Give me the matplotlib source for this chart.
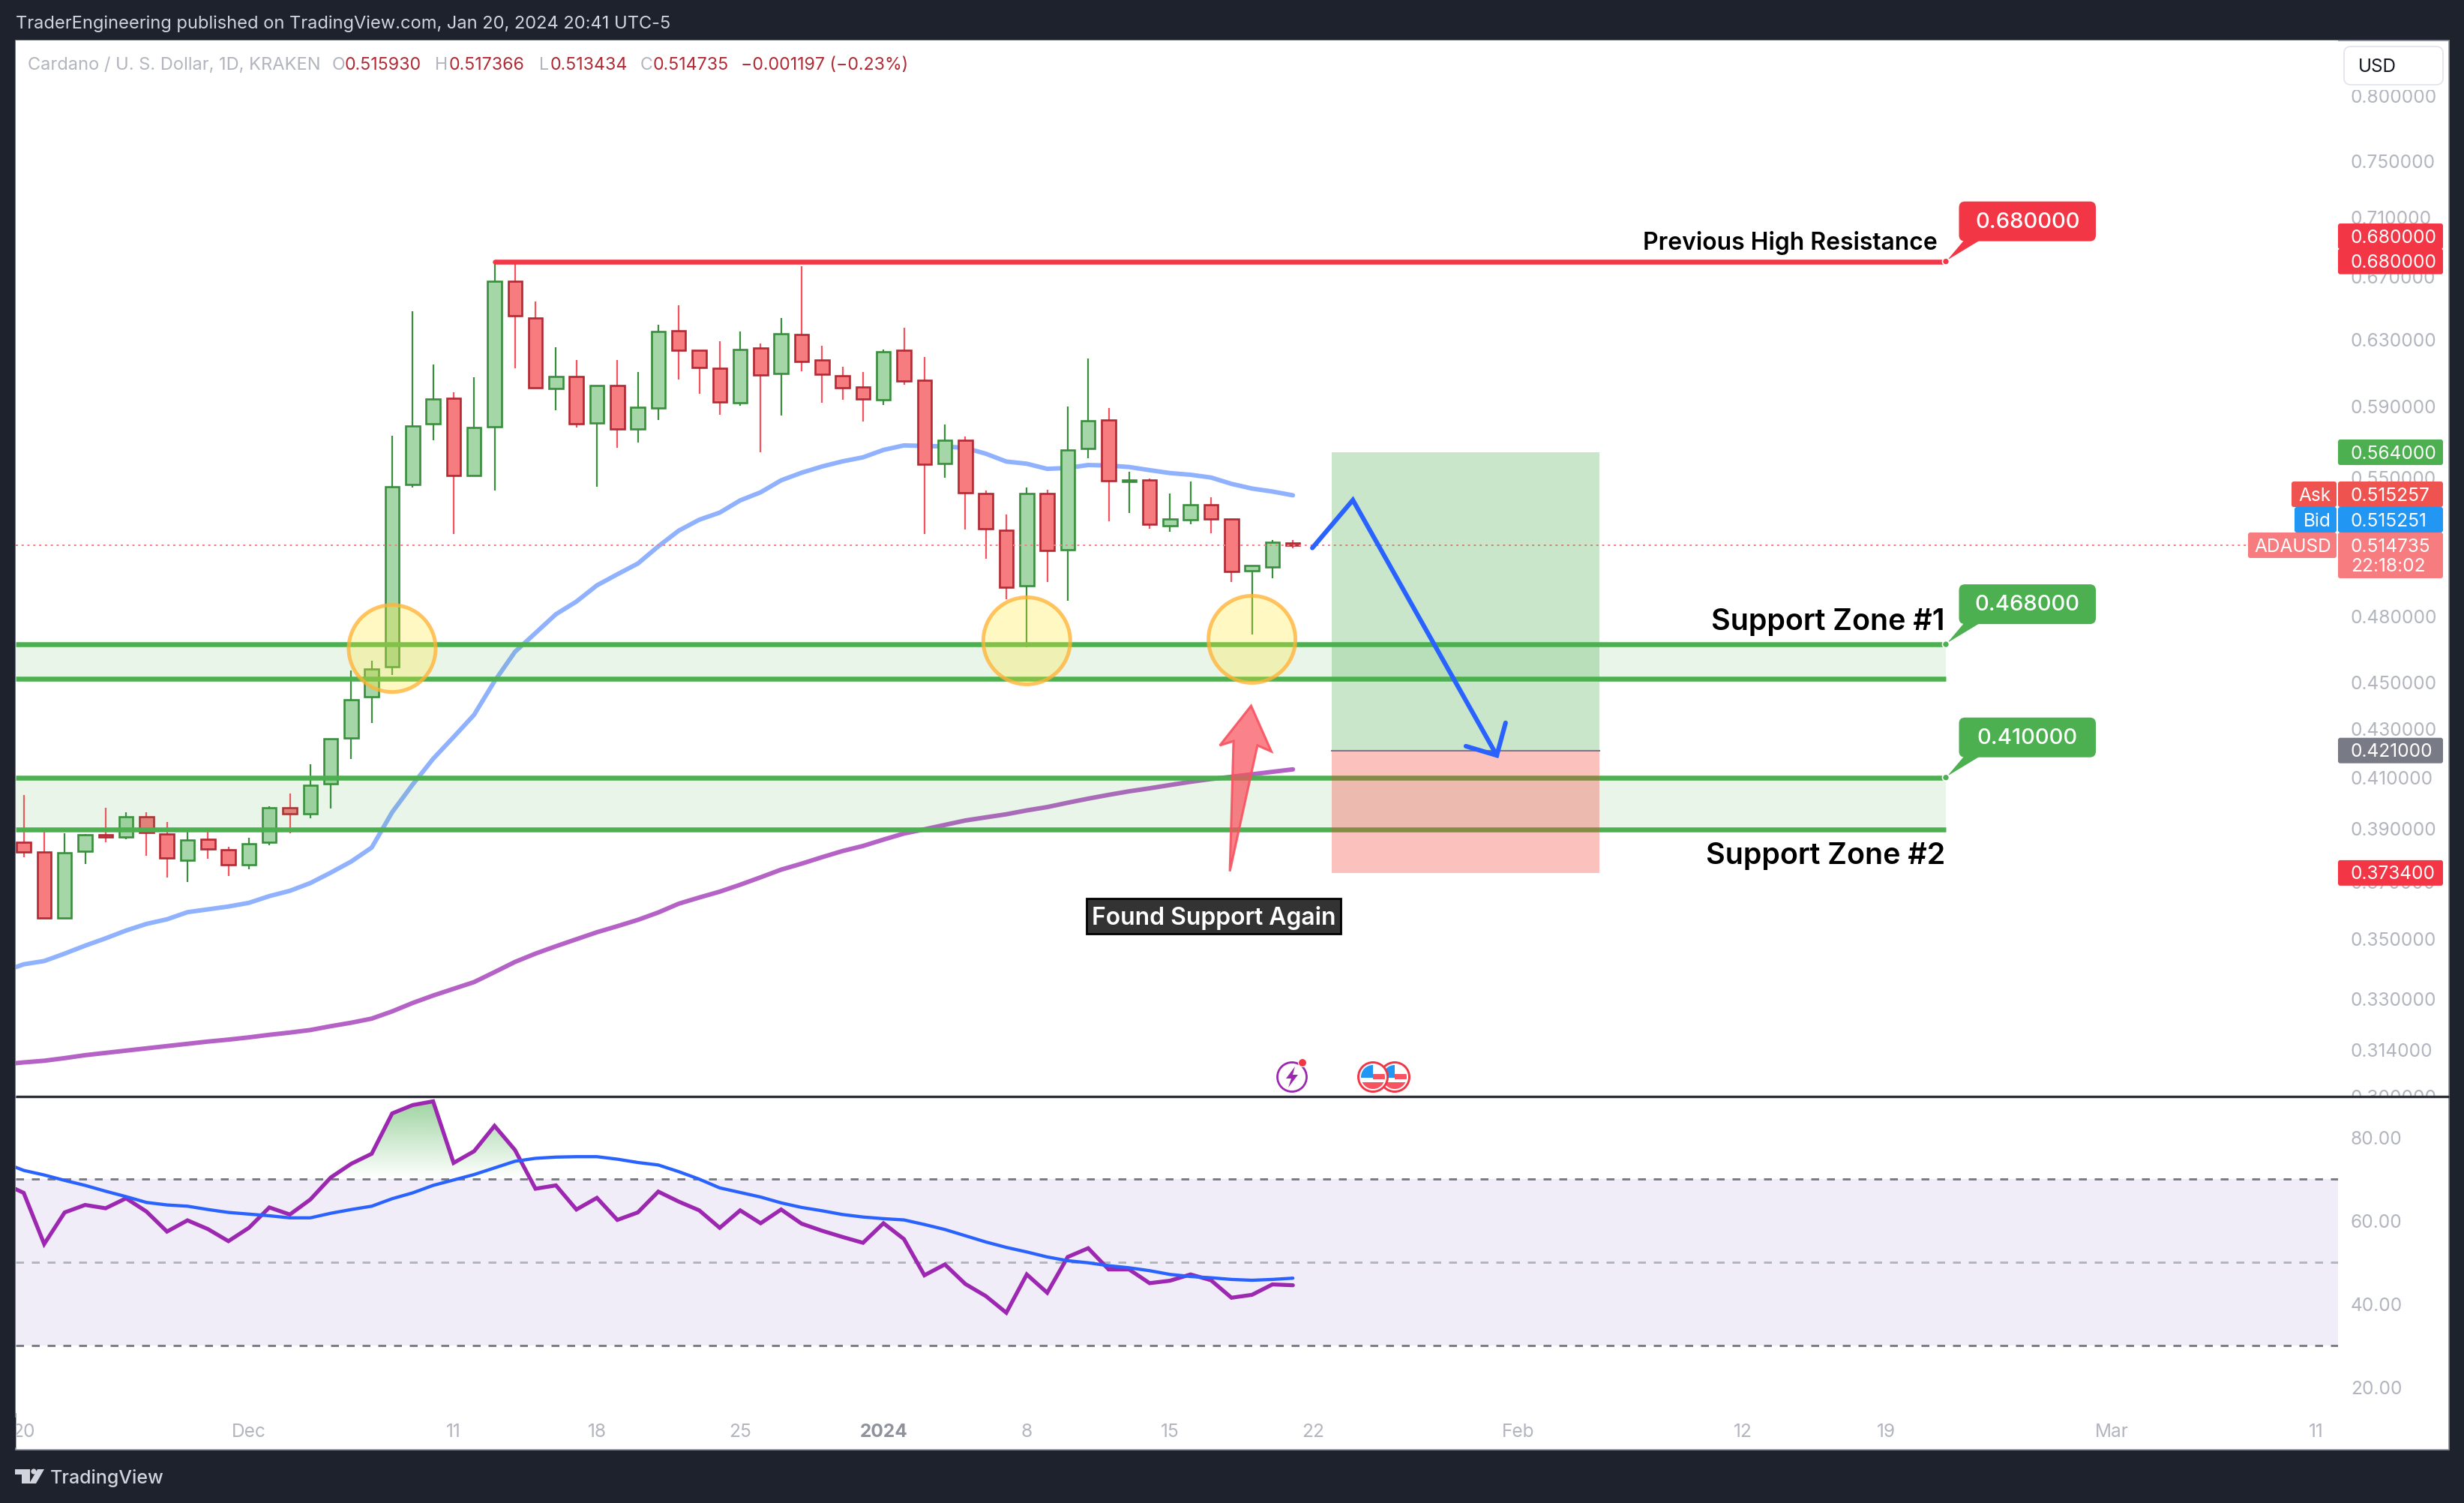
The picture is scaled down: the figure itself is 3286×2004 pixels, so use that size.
import numpy as np
import matplotlib
matplotlib.use("Agg")
import matplotlib.pyplot as plt
from matplotlib.patches import Rectangle, FancyBboxPatch, Circle, Polygon
from matplotlib.ticker import NullLocator

plt.rcParams['font.family'] = ['Inter', 'DejaVu Sans']

# ---- data -------------------------------------------------------------
opens = [.3847,.3810,.3573,.3814,.3875,.3867,.3946,.3880,.3781,.3860,.3820,.3765,.3849,.3981,.3956,.4075,
         .4262,.4437,.4572,.5465,.5798,.5947,.5514,.5783,.6671,.6435,.6005,.6075,.5805,.6022,.5768,.5891,
         .6355,.6231,.6126,.5919,.6245,.6092,.6328,.6172,.6081,.6014,.5938,.6234,.6054,.5579,.5705,.5418,
         .5223,.4949,.5418,.5126,.5661,.5822,.5482,.5490,.5247,.5279,.5359,.5281,.5022,.5041,.51593]
highs = [.4029,.3888,.3883,.3878,.3981,.3963,.3963,.3926,.3888,.3888,.3831,.3864,.3986,.4036,.4154,.4260,
         .4554,.4599,.5732,.6476,.6148,.5982,.6070,.6800,.6786,.6538,.6253,.6175,.6022,.6172,.6101,.6392,
         .6515,.6233,.6289,.6347,.6273,.6434,.6770,.6263,.6133,.6102,.6238,.6374,.6190,.5796,.5729,.5433,
         .5307,.5449,.5437,.5900,.6184,.5891,.5534,.5498,.5418,.5482,.5398,.5282,.5046,.5175,.517366]
lows = [.3791,.3570,.3570,.3768,.3847,.3859,.3796,.3716,.3701,.3786,.3723,.3748,.3836,.3883,.3939,.3977,
        .4175,.4324,.4533,.5447,.5706,.5204,.5510,.5431,.6122,.6005,.5876,.5778,.5453,.5665,.5694,.5820,
        .6058,.5974,.5853,.5903,.5640,.5845,.6107,.5921,.5938,.5811,.5908,.6027,.5204,.5502,.5230,.5081,
        .4883,.4657,.4967,.4876,.5609,.5272,.5315,.5233,.5216,.5256,.5210,.4965,.4717,.4985,.513434]
closes = [.3810,.3573,.3808,.3875,.3867,.3946,.3886,.3788,.3857,.3822,.3765,.3843,.3981,.3956,.4068,.4258,
          .4426,.4562,.5453,.5788,.5941,.5514,.5778,.6668,.6446,.6010,.6075,.5800,.6022,.5768,.5893,.6351,
          .6233,.6128,.5925,.6240,.6083,.6337,.6165,.6088,.6009,.5941,.6226,.6047,.5574,.5705,.5421,.5232,
          .4941,.5418,.5122,.5654,.5819,.5485,.5487,.5255,.5281,.5359,.5282,.5019,.5046,.5162,.514735]
# moving averages start one session before the first visible candle
ma_fast = [.3390,.3414,.3425,.3450,.3477,.3502,.3529,.3552,.3568,.3593,.3603,.3613,.3626,.3650,.3669,.3697,.3735,
           .3776,.3828,.3963,.4072,.4176,.4266,.4360,.4506,.4638,.4724,.4812,.4872,.4950,.5004,.5057,.5143,
           .5223,.5279,.5316,.5380,.5423,.5487,.5528,.5562,.5590,.5612,.5653,.5678,.5675,.5672,.5664,.5632,
           .5589,.5577,.5549,.5554,.5570,.5567,.5559,.5542,.5526,.5517,.5502,.5468,.5443,.5427,.5407]
ma_slow = [.3095,.3101,.3106,.3114,.3123,.3130,.3137,.3144,.3151,.3158,.3165,.3171,.3178,.3186,.3193,.3201,.3213,
           .3224,.3237,.3260,.3287,.3311,.3333,.3355,.3388,.3422,.3450,.3475,.3499,.3523,.3544,.3566,.3592,
           .3623,.3645,.3666,.3691,.3718,.3746,.3768,.3792,.3815,.3834,.3858,.3881,.3897,.3914,.3931,.3943,
           .3955,.3970,.3983,.4000,.4016,.4031,.4045,.4057,.4070,.4083,.4094,.4103,.4113,.4123,.4133]
rsi = [69.0,66.7,54.4,62.0,63.8,63.0,65.4,62.2,57.4,60.1,58.0,55.1,58.3,63.2,61.5,65.1,70.4,73.7,76.1,85.8,87.8,88.7,
       73.9,76.7,82.8,77.0,67.7,68.5,62.7,65.5,60.2,62.0,67.0,64.6,62.5,58.3,62.5,59.4,62.7,59.3,57.6,56.1,54.7,
       59.4,55.6,46.9,49.5,44.8,41.9,37.9,47.1,42.7,51.3,53.4,48.3,48.3,45.0,45.6,47.1,45.7,41.5,42.2,44.7,44.5]
rsi_ma = [74.0,72.1,71.0,69.7,68.5,67.1,65.8,64.4,63.8,63.5,62.7,62.0,61.6,61.2,60.7,60.7,61.8,62.7,63.5,65.3,66.7,68.5,
          69.8,71.1,72.7,74.3,75.0,75.3,75.4,75.4,74.8,74.0,73.4,71.8,70.0,67.9,66.8,65.7,64.3,63.2,62.4,61.5,60.9,
          60.5,60.2,59.1,57.9,56.4,54.9,53.6,52.5,51.3,50.4,49.9,49.2,48.7,48.0,47.1,46.6,46.3,45.9,45.7,45.9,46.2]
price_ticks = [.80,.75,.71,.67,.63,.59,.55,.48,.45,.43,.41,.39,.37,.35,.33,.314,.30]
price_labels = ["%.6f" % v for v in price_ticks]
rsi_ticks = [80, 60, 40, 20]
rsi_labels = ["80.00", "60.00", "40.00", "20.00"]
time_ticks = [0, 11, 21, 28, 35, 42, 49, 56, 63, 73, 84, 91, 102, 112]
time_labels = ["20", "Dec", "11", "18", "25", "2024", "8", "15", "22", "Feb", "12", "19", "Mar", "11"]

resistance = 0.68
zone1 = (0.4518, 0.4672)
zone2 = (0.3897, 0.4100)
target, entry, stop = 0.564, 0.421, 0.3734
last_close = 0.514735
plan_x = [62.95, 64.93, 71.96]
plan_y = [.5135, .5382, .4190]
head_x = [70.45, 71.96, 72.39]
head_y = [.4228, .4190, .4326]
red_arrow_x = [59.96, 60.95, 60.27, 58.92, 59.10, 58.43]
red_arrow_y = [.4399, .4206, .4231, .3740, .4249, .4231]
touch_x = [18, 49, 60]
touch_y = [.4653, .4688, .4695]

# ---- colours ----------------------------------------------------------
DARK = '#1E222D'; GREY = '#B2B5BE'; RED = '#F23645'; GREEN = '#4CAF50'
UP_F = '#A5D6A7'; UP_E = '#388E3C'; DN_F = '#F77C80'; DN_E = '#B22833'; DN_W = '#F7525F'

W, H = 3286, 2004
fig = plt.figure(figsize=(W/100, H/100), dpi=100, facecolor=DARK)

def frac(l, t, r, b):
    return [l/W, 1-b/H, (r-l)/W, (b-t)/H]

fig.add_artist(Rectangle((21/W, 1-1933/H), (3266-21)/W, (1933-54)/H, transform=fig.transFigure,
                         fc='white', ec='#8A8E99', lw=1.2, zorder=-5))

ax = fig.add_axes(frac(21, 54, 3118, 1462), facecolor='white', zorder=2)
x0, x1 = (21-31.6)/27.3, (3118-31.6)/27.3
ax.set_yscale('log')
ax.set_xlim(x0, x1)
ax.set_ylim(0.2999, 0.8445)
for s in ax.spines.values():
    s.set_visible(False)
ax.yaxis.tick_right()
ax.yaxis.set_minor_locator(NullLocator())
ax.set_yticks(price_ticks, price_labels)
ax.tick_params(axis='y', length=0, pad=12.2, labelsize=17.6, labelcolor=GREY)
ax.set_xticks([])

xs = np.arange(len(opens))
xm = np.arange(-1, len(opens))
ax.plot(xm, ma_fast, color='#90B1FE', lw=4.3, zorder=1, solid_capstyle='round')
ax.plot(xm, ma_slow, color='#B562C6', lw=4.3, zorder=1, solid_capstyle='round')

o, h, l, c = map(np.array, (opens, highs, lows, closes))
up = c >= o
ax.vlines(xs[up], l[up], h[up], color=UP_E, lw=1.6, zorder=2)
ax.vlines(xs[~up], l[~up], h[~up], color=DN_W, lw=1.6, zorder=2)
bot = np.minimum(o, c); top = np.maximum(o, c)
ax.bar(xs[up], (top-bot)[up], bottom=bot[up], width=.68, fc=UP_F, ec=UP_E, lw=1.9, zorder=2.2)
ax.bar(xs[~up], (top-bot)[~up], bottom=bot[~up], width=.68, fc=DN_F, ec=DN_E, lw=1.9, zorder=2.2)

px_end = 93.9
ax.plot([x0, 108.66], [last_close]*2, color=DN_F, lw=1.4, ls=(0, (1.5, 2.5)), zorder=2.5)
for lo, hi in (zone1, zone2):
    ax.fill_between([x0, px_end], lo, hi, color=GREEN, alpha=.12, lw=0, zorder=3)
    ax.plot([x0, px_end], [hi, hi], color=GREEN, lw=4.7, zorder=3.1, solid_capstyle='butt')
    ax.plot([x0, px_end], [lo, lo], color=GREEN, lw=4.7, zorder=3.1, solid_capstyle='butt')
ax.plot([23, px_end], [resistance]*2, color=RED, lw=4.7, zorder=3.1, solid_capstyle='round')

ax.fill_between([63.9, 76.97], entry, target, color=GREEN, alpha=.30, lw=0, zorder=4)
ax.fill_between([63.9, 76.97], stop, entry, color='#F44336', alpha=.33, lw=0, zorder=4)
ax.plot([63.9, 76.97], [entry, entry], color='#787B86', lw=1.5, zorder=4.1)
ax.add_patch(Polygon(np.column_stack([red_arrow_x, red_arrow_y]), closed=True, fc=(247/255, 82/255, 95/255, .72),
                     ec=(247/255, 82/255, 95/255, .9), lw=2.2, zorder=6))
ax.plot(plan_x, plan_y, color='#2962FF', lw=4.4, zorder=6, solid_capstyle='round', solid_joinstyle='miter')
ax.plot(head_x, head_y, color='#2962FF', lw=4.4, zorder=6, solid_capstyle='round', solid_joinstyle='miter')

# ---- RSI pane ---------------------------------------------------------
rx = fig.add_axes(frac(21, 1464, 3118, 1884), facecolor='white', zorder=2)
rx.set_xlim(x0, x1)
rx.set_ylim(13.8, 89.5)
for s in rx.spines.values():
    s.set_visible(False)
rx.yaxis.tick_right()
rx.set_yticks(rsi_ticks, rsi_labels)
rx.tick_params(axis='y', length=0, pad=12.2, labelsize=17.6, labelcolor=GREY)
rx.set_xticks(time_ticks, time_labels)
rx.tick_params(axis='x', length=0, pad=10, labelsize=17.6, labelcolor=GREY)
for t, s in zip(rx.get_xticklabels(), time_labels):
    if s == '2024':
        t.set_fontweight('bold'); t.set_color('#8F929C')
rx.axhspan(30, 70, color='#7E57C2', alpha=.10, lw=0, zorder=1)
rx.axhline(70, color='#787B86', lw=2.1, ls=(0, (3.6, 3.6)), zorder=1.2)
rx.axhline(50, color='#B2B5BE', lw=2.1, ls=(0, (3.6, 3.6)), zorder=1.2)
rx.axhline(30, color='#787B86', lw=2.1, ls=(0, (3.6, 3.6)), zorder=1.2)
rsi_a = np.array(rsi)
poly = rx.fill_between(xm, 70, rsi_a, where=rsi_a >= 70, interpolate=True, color='none', lw=0)
grad = np.zeros((100, 2, 4))
grad[..., :3] = matplotlib.colors.to_rgb(GREEN)
grad[..., 3] = np.linspace(.55, 0, 100)[:, None]
im = rx.imshow(grad, extent=(-1, 63, 70, 89), origin='upper', aspect='auto', zorder=1.4, interpolation='bilinear')
im.set_clip_path(poly.get_paths()[0], transform=rx.transData)
rx.set_xlim(x0, x1); rx.set_ylim(13.8, 89.5)
rx.plot(xm, rsi, color='#9C27B0', lw=3.8, zorder=3, solid_joinstyle='miter', solid_capstyle='round')
rx.plot(xm, rsi_ma, color='#2962FF', lw=3.1, zorder=3.2, solid_capstyle='round')

# ---- overlay in pixels (labels, tags, furniture) ------------------------
ov = fig.add_axes([0, 0, 1, 1], zorder=10, facecolor='none')
ov.set_xlim(0, W); ov.set_ylim(H, 0); ov.axis('off')

def py(price, x=0):
    return H - ax.transData.transform((x, price))[1]

def px(i):
    return ax.transData.transform((i, 0.5))[0]

def box(l, t, r, b, fc, ec='none', lw=0, rad=3, z=11):
    ov.add_patch(FancyBboxPatch((l+rad, t+rad), r-l-2*rad, b-t-2*rad, boxstyle='round,pad=%g,rounding_size=%g' % (rad, rad),
                                fc=fc, ec=ec, lw=lw, zorder=z, mutation_aspect=1))

def txt(x, y, s, size=17.6, color='white', ha='left', weight='normal', z=12):
    return ov.text(x, y+2, s, fontsize=size, color=color, ha=ha, va='center', fontweight=weight, zorder=z)

# hide parts of labels clipped in the original
ov.add_patch(Rectangle((3119, 1464), 146, 30, fc='white', ec='none', zorder=9))
ov.add_patch(Rectangle((0, 1890), 20.5, 40, fc=DARK, ec='none', zorder=9))
ov.plot([21, 3266], [1462, 1462], color='#2A2E39', lw=2.4, zorder=10, solid_capstyle='butt')

for i, p in zip(touch_x, touch_y):
    ov.add_patch(Circle((px(i), py(p)), 58, fc=(1, .92, .23, .30), ec=(1, .70, .22, .78), lw=3.6, zorder=5))

# right scale tags
def tag(center, s, fc, h=34):
    box(3118, center-h/2, 3258, center+h/2, fc)
    txt(3135, center, s)

tag(315, "0.680000", RED)
tag(py(.68), "0.680000", RED)
tag(py(target), "0.564000", GREEN)
tag(659, "0.515257", '#EF5350')
tag(693, "0.515251", '#2196F3')
box(3118, 710, 3258, 771, DN_F)
txt(3135, 727, "0.514735")
txt(3135, 754, "22:18:02")
tag(py(entry), "0.421000", '#787B86')
tag(py(stop), "0.373400", RED)
box(3056, 642, 3116, 676, '#EF5350'); txt(3109, 659, "Ask", ha='right')
box(3060, 676, 3116, 710, '#2196F3'); txt(3109, 693, "Bid", ha='right')
box(2998, 710, 3116, 744, DN_F); txt(3109, 727, "ADAUSD", ha='right')

# USD button
ov.add_patch(Rectangle((3122, 56), 143, 64, fc='white', ec='none', zorder=11))
box(3126, 62, 3258, 113, 'white', ec='#E0E3EB', lw=1.2, rad=9, z=11.5)
txt(3145, 87, "USD", size=17.5, color='#131722')

# callouts
def callout(price, s, fc):
    y = py(price)
    bb, bt = y-27, y-80
    box(2612.5, bt, 2795, bb, fc, rad=8, z=7)
    ov.add_patch(Polygon([(2619, bb-1), (2640, bb-1), (2597, y-2)], closed=True, fc=fc, ec='none', zorder=7))
    ov.add_patch(Circle((2595, y), 4.5, fc=fc, ec='white', lw=1.2, zorder=8))
    txt((2612.5+2795)/2, (bt+bb)/2-1, s, size=21, ha='center', weight='medium', z=8)

callout(.68, "0.680000", RED)
callout(zone1[1], "0.468000", GREEN)
callout(zone2[1], "0.410000", GREEN)

txt(2584, 322, "Previous High Resistance", size=23, color='black', ha='right', weight='semibold', z=8)
txt(2594, 828, "Support Zone #1", size=28.4, color='black', ha='right', weight='semibold', z=8)
txt(2594, 1140, "Support Zone #2", size=28.4, color='black', ha='right', weight='semibold', z=8)
ov.add_patch(Rectangle((1449, 1198), 339, 47, fc='#333333', ec='black', lw=2, zorder=7))
txt(1618.5, 1222, "Found Support Again", size=23, ha='center', weight='semibold', z=8)

# header
txt(21, 30, "TraderEngineering published on TradingView.com, Jan 20, 2024 20:41 UTC-5", size=17, color='#D1D4DC')
txt(37, 85, "Cardano / U. S. Dollar, 1D, KRAKEN", size=17, color=GREY)
for xx, s, col in ((443, "O", GREY), (460, "0.515930", DN_E), (580, "H", GREY), (599, "0.517366", DN_E),
                   (719, "L", GREY), (734, "0.513434", DN_E), (854, "C", GREY), (871, "0.514735", DN_E),
                   (988, "\u22120.001197 (\u22120.23%)", DN_E)):
    txt(xx, 85, s, size=16.7, color=col)

# event icons on the time line
ec, ey = 1723, 1436
ov.add_patch(Circle((ec, ey), 19.5, fc='white', ec='#9C27B0', lw=2.0, zorder=7))
ov.add_patch(Polygon([(ec+4, ey-14), (ec-8, ey+2), (ec-1, ey+2), (ec-5, ey+14), (ec+8, ey-3), (ec+1, ey-3)],
                     closed=True, fc='#9C27B0', ec='none', zorder=7.1))
ov.add_patch(Circle((ec+14, ey-19), 5.5, fc=RED, ec='white', lw=.8, zorder=7.2))

def flag(cx, cy, z):
    ring = Circle((cx, cy), 19.5, fc='white', ec=RED, lw=2.1, zorder=z)
    ov.add_patch(ring)
    clip = Circle((cx, cy), 16, transform=ov.transData)
    parts = [Rectangle((cx, cy-4), 16, 7, fc='#F7525F', ec='none', zorder=z+.1),
             Rectangle((cx-16, cy+7), 32, 9, fc='#F7525F', ec='none', zorder=z+.1),
             Rectangle((cx-16, cy-16), 16, 17, fc='#2196F3', ec='none', zorder=z+.2)]
    for pt in parts:
        ov.add_patch(pt)
        pt.set_clip_path(clip)

flag(1860, 1436, 7)
flag(1831, 1436, 7.5)

# logo
LOGO = '#D1D4DC'
ov.add_patch(Rectangle((20, 1959), 20, 6.5, fc=LOGO, ec='none', zorder=12))
ov.add_patch(Rectangle((29, 1959), 11, 19, fc=LOGO, ec='none', zorder=12))
ov.add_patch(Circle((45, 1962), 3.6, fc=LOGO, ec='none', zorder=12))
ov.add_patch(Polygon([(39, 1978), (48, 1978), (59, 1959), (50, 1959)], closed=True, fc=LOGO, ec='none', zorder=12))
txt(67, 1969, "TradingView", size=18, color=LOGO, weight='medium')

fig.savefig('out.png', dpi=100, facecolor=DARK)
